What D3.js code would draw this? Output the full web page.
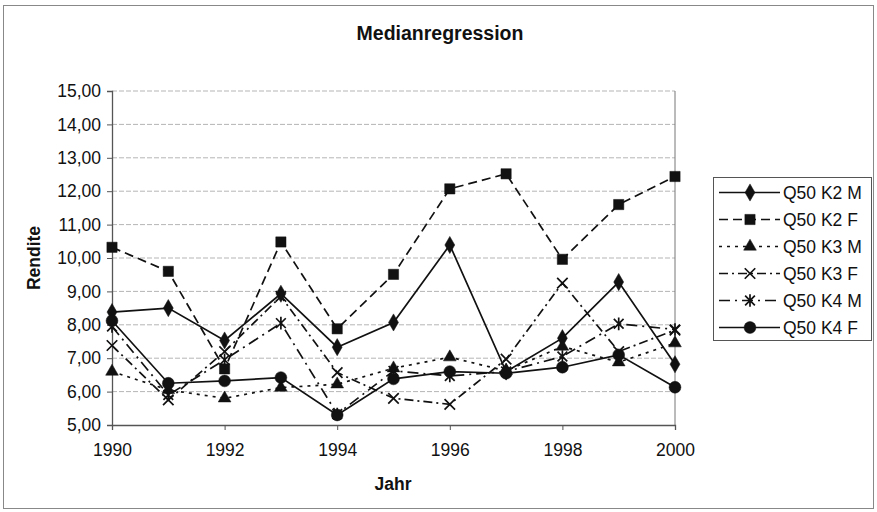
<!DOCTYPE html>
<html>
<head>
<meta charset="utf-8">
<script src="https://cdn.jsdelivr.net/npm/d3@7"></script>
<style>
  html, body { margin: 0; padding: 0; background: #fff; }
  svg { display: block; font-family: "Liberation Sans", Arial, sans-serif; }
</style>
</head>
<body>
<svg id="chart" width="877" height="512"></svg>
<script>
const years = [1990, 1991, 1992, 1993, 1994, 1995, 1996, 1997, 1998, 1999, 2000];
const seriesNames = ["Q50 K2 M", "Q50 K2 F", "Q50 K3 M", "Q50 K3 F", "Q50 K4 M", "Q50 K4 F"];
const k2m = [8.38, 8.50, 7.53, 8.93, 7.33, 8.07, 10.39, 6.60, 7.60, 9.28, 6.82];
const k2f = [10.32, 9.60, 6.68, 10.48, 7.88, 9.51, 12.07, 12.52, 9.96, 11.60, 12.44];
const k3m = [6.60, 6.05, 5.80, 6.12, 6.22, 6.70, 7.03, 6.62, 7.35, 6.88, 7.45];
const k3f = [7.38, 5.75, 7.20, 8.85, 6.57, 5.80, 5.62, 6.97, 9.25, 7.20, 7.84];
const k4m = [7.95, 5.90, 6.95, 8.05, 5.33, 6.62, 6.47, 6.60, 7.05, 8.03, 7.86];
const k4f = [8.12, 6.25, 6.32, 6.42, 5.30, 6.38, 6.60, 6.55, 6.73, 7.10, 6.13];
const yTicks = [5, 6, 7, 8, 9, 10, 11, 12, 13, 14, 15];
const xTicks = [1990, 1992, 1994, 1996, 1998, 2000];

const seriesValues = [k2m, k2f, k3m, k3f, k4m, k4f];

// custom stroke symbols
const symX = { draw(ctx, size) { const r = Math.sqrt(size) / 2; ctx.moveTo(-r, -r); ctx.lineTo(r, r); ctx.moveTo(r, -r); ctx.lineTo(-r, r); } };
const symAst = { draw(ctx, size) { const r = Math.sqrt(size) / 2; ctx.moveTo(-r, -r); ctx.lineTo(r, r); ctx.moveTo(r, -r); ctx.lineTo(-r, r); ctx.moveTo(0, -r * 1.3); ctx.lineTo(0, r * 1.3); } };

const styles = [
  { dash: null, sym: d3.symbolDiamond, size: 85, fill: true },
  { dash: "9,5", sym: d3.symbolSquare, size: 105, fill: true },
  { dash: "3,5", sym: d3.symbolTriangle, size: 70, fill: true },
  { dash: "9,4,2,4", sym: symX, size: 110, fill: false },
  { dash: "11,5,2,5", sym: symAst, size: 95, fill: false },
  { dash: null, sym: d3.symbolCircle, size: 110, fill: true }
];

const svg = d3.select("#chart");
const ink = "#111";

// outer frame
svg.append("rect").attr("x", 3.5).attr("y", 5.5).attr("width", 870).attr("height", 503)
  .attr("fill", "none").attr("stroke", "#888").attr("stroke-width", 1);

const L = 112, R = 675, T = 91, B = 425;
const x = d3.scaleLinear().domain([1990, 2000]).range([L, R]);
const y = d3.scaleLinear().domain([5, 15]).range([B, T]);

// gridlines
svg.append("g").selectAll("line").data(yTicks.filter(v => v > 5)).join("line")
  .attr("x1", L).attr("x2", R).attr("y1", d => y(d)).attr("y2", d => y(d))
  .attr("stroke", "#b5b5b5").attr("stroke-width", 1).attr("stroke-dasharray", "5,2");

// right border
svg.append("line").attr("x1", R).attr("x2", R).attr("y1", T).attr("y2", B)
  .attr("stroke", "#777").attr("stroke-width", 1);

// axes
const yAxis = d3.axisLeft(y).tickValues(yTicks).tickSize(5).tickPadding(6)
  .tickFormat(d => d3.format(".2f")(d).replace(".", ","));
const gy = svg.append("g").attr("transform", `translate(${L},0)`).call(yAxis);
const xAxis = d3.axisBottom(x).tickValues(xTicks).tickSize(5).tickPadding(14).tickFormat(d3.format("d"));
const gx = svg.append("g").attr("transform", `translate(0,${B})`).call(xAxis);
[gx, gy].forEach(g => {
  g.select(".domain").attr("stroke", "#555").attr("stroke-width", 1.3);
  g.selectAll(".tick line").attr("stroke", "#555");
  g.selectAll("text").attr("font-size", 17.5).attr("fill", ink)
    .attr("font-family", "'Liberation Sans', Arial, sans-serif");
});

// titles
svg.append("text").attr("x", 440).attr("y", 40).attr("text-anchor", "middle")
  .attr("font-size", 19.5).attr("font-weight", "bold").attr("fill", ink).text("Medianregression");
svg.append("text").attr("x", 393).attr("y", 490).attr("text-anchor", "middle")
  .attr("font-size", 17.5).attr("font-weight", "bold").attr("fill", ink).text("Jahr");
svg.append("text").attr("transform", "translate(40,258) rotate(-90)").attr("text-anchor", "middle")
  .attr("font-size", 17.5).attr("font-weight", "bold").attr("fill", ink).text("Rendite");

// lines
const line = d3.line().x((d, i) => x(years[i])).y(d => y(d));
seriesValues.forEach((vals, si) => {
  const st = styles[si];
  const g = svg.append("g");
  g.append("path").datum(vals).attr("d", line).attr("fill", "none")
    .attr("stroke", ink).attr("stroke-width", 1.7)
    .attr("stroke-dasharray", st.dash);
  g.selectAll("path.m").data(vals).join("path").attr("class", "m")
    .attr("transform", (d, i) => `translate(${x(years[i])},${y(d)})`)
    .attr("d", d3.symbol().type(st.sym).size(st.size))
    .attr("fill", st.fill ? ink : "none").attr("stroke", ink).attr("stroke-width", st.fill ? 0.5 : 1.7);
});

// legend
const lg = svg.append("g");
lg.append("rect").attr("x", 713.5).attr("y", 177.5).attr("width", 158).attr("height", 163)
  .attr("fill", "#fff").attr("stroke", "#555").attr("stroke-width", 1);
seriesNames.forEach((name, i) => {
  const st = styles[i];
  const cy = 192.5 + i * 27;
  lg.append("line").attr("x1", 719).attr("x2", 780).attr("y1", cy).attr("y2", cy)
    .attr("stroke", ink).attr("stroke-width", 1.7).attr("stroke-dasharray", st.dash);
  lg.append("path").attr("transform", `translate(750,${cy})`)
    .attr("d", d3.symbol().type(st.sym).size(st.size))
    .attr("fill", st.fill ? ink : "none").attr("stroke", ink).attr("stroke-width", st.fill ? 0.5 : 1.7);
  lg.append("text").attr("x", 783).attr("y", cy + 6).attr("font-size", 17.5).attr("fill", ink).text(name);
});
</script>
</body>
</html>
